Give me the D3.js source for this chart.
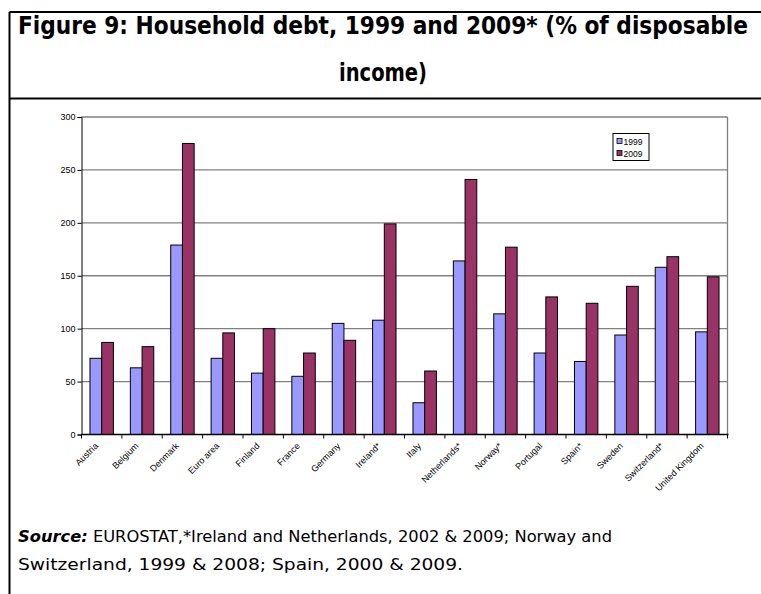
<!DOCTYPE html>
<html>
<head>
<meta charset="utf-8">
<script src="https://cdn.jsdelivr.net/npm/d3@7"></script>
<style>
  body { margin: 0; background: #fff; }
  .title { font-family: "DejaVu Sans", sans-serif; font-stretch: condensed; font-weight: bold; font-size: 24px; }
  .note { font-family: "DejaVu Sans", sans-serif; font-stretch: condensed; font-size: 16px; }
  .axis text, .legend text { font-family: "Liberation Sans", Arial, sans-serif; font-size: 9px; fill: #000; }
  .legend text { font-size: 8.5px; }
</style>
</head>
<body>
<svg id="chart" width="761" height="594"></svg>
<script>
// data
let countries = ["Austria", "Belgium", "Denmark", "Euro area", "Finland", "France", "Germany", "Ireland*",
  "Italy", "Netherlands*", "Norway*", "Portugal", "Spain*", "Sweden", "Switzerland*", "United Kingdom"]
let years = ["1999", "2009"]
let debt1999 = [72, 63, 179, 72, 58, 55, 105, 108, 30, 164, 114, 77, 69, 94, 158, 97]
let debt2009 = [87, 83, 275, 96, 100, 77, 89, 199, 60, 241, 177, 130, 124, 140, 168, 149]
let yTickValues = [0, 50, 100, 150, 200, 250, 300]
let colors = ["#9999ff", "#993366"]

let svg = d3.select("#chart")

// frame around the figure
svg.append("line").attr("x1", 9.5).attr("x2", 9.5).attr("y1", 12).attr("y2", 594)
  .attr("stroke", "#000").attr("stroke-width", 2)
svg.append("line").attr("x1", 9.5).attr("x2", 761).attr("y1", 12).attr("y2", 12)
  .attr("stroke", "#000").attr("stroke-width", 2)
svg.append("line").attr("x1", 9.5).attr("x2", 761).attr("y1", 98.5).attr("y2", 98.5)
  .attr("stroke", "#000").attr("stroke-width", 2)

// title
svg.append("text").attr("class", "title").attr("x", 383).attr("y", 34)
  .attr("text-anchor", "middle").attr("textLength", 730).attr("lengthAdjust", "spacingAndGlyphs")
  .text("Figure 9: Household debt, 1999 and 2009* (% of disposable")
svg.append("text").attr("class", "title").attr("x", 383).attr("y", 81)
  .attr("text-anchor", "middle").attr("textLength", 88).attr("lengthAdjust", "spacingAndGlyphs")
  .text("income)")

// plot area
let plotLeft = 81.5, plotRight = 727.5, plotTop = 117, plotBottom = 434.5

let x = d3.scaleBand().domain(countries).range([plotLeft, plotRight]).paddingInner(0.42).paddingOuter(0.21)
let xInner = d3.scaleBand().domain(years).range([0, x.bandwidth()])
let y = d3.scaleLinear().domain([0, 300]).range([plotBottom, plotTop])

// gridlines
svg.append("g").selectAll("line").data(yTickValues.filter(d => d > 0)).join("line")
  .attr("x1", plotLeft).attr("x2", plotRight)
  .attr("y1", d => y(d)).attr("y2", d => y(d))
  .attr("stroke", "#808080").attr("stroke-width", 1.3)
svg.append("line").attr("x1", plotRight).attr("x2", plotRight).attr("y1", plotTop).attr("y2", plotBottom)
  .attr("stroke", "#808080").attr("stroke-width", 1.3)

// bars
let data = countries.map((c, i) => ({ country: c, values: [debt1999[i], debt2009[i]] }))
svg.append("g").selectAll("g").data(data).join("g")
  .attr("transform", d => "translate(" + x(d.country) + ",0)")
  .selectAll("rect").data(d => d.values.map((v, j) => ({ year: years[j], value: v, k: j }))).join("rect")
  .attr("x", d => xInner(d.year))
  .attr("y", d => y(d.value))
  .attr("width", xInner.bandwidth())
  .attr("height", d => y(0) - y(d.value))
  .attr("fill", d => colors[d.k])
  .attr("stroke", "#000").attr("stroke-width", 1)

// y axis
let yAxis = d3.axisLeft(y).tickValues(yTickValues).tickSize(4).tickPadding(2)
let gy = svg.append("g").attr("class", "axis").attr("transform", "translate(" + plotLeft + ",0)").call(yAxis)
gy.select(".domain").attr("stroke", "#000")
gy.selectAll(".tick line").attr("stroke", "#000")

// x axis, ticks between categories
let gx = svg.append("g").attr("class", "axis")
gx.append("line").attr("x1", plotLeft).attr("x2", plotRight + 1).attr("y1", plotBottom).attr("y2", plotBottom)
  .attr("stroke", "#000").attr("stroke-width", 1.5)
gx.selectAll(".tk").data(d3.range(countries.length + 1)).join("line").attr("class", "tk")
  .attr("x1", i => plotLeft + i * x.step()).attr("x2", i => plotLeft + i * x.step())
  .attr("y1", plotBottom).attr("y2", plotBottom + 4)
  .attr("stroke", "#000")
gx.selectAll("text").data(countries).join("text")
  .attr("text-anchor", "end")
  .attr("transform", d => "translate(" + (x(d) + x.bandwidth() / 2 - 3) + "," + (plotBottom + 12) + ") rotate(-45)")
  .text(d => d)

// legend
let legend = svg.append("g").attr("class", "legend").attr("transform", "translate(613,133.5)")
legend.append("rect").attr("width", 36).attr("height", 27).attr("fill", "#fff").attr("stroke", "#000")
legend.selectAll(".sw").data(years).join("rect").attr("class", "sw")
  .attr("x", 4).attr("y", (d, i) => 5 + i * 12).attr("width", 5).attr("height", 5)
  .attr("fill", (d, i) => colors[i]).attr("stroke", "#000").attr("stroke-width", 0.8)
legend.selectAll("text").data(years).join("text")
  .attr("x", 10.5).attr("y", (d, i) => 11 + i * 12)
  .text(d => d)

// source note
let note1 = svg.append("text").attr("class", "note").attr("x", 18).attr("y", 542)
  .attr("textLength", 594).attr("lengthAdjust", "spacingAndGlyphs")
note1.append("tspan").attr("font-weight", "bold").attr("font-style", "italic").text("Source:")
note1.append("tspan").text(" EUROSTAT,*Ireland and Netherlands, 2002 & 2009; Norway and")
svg.append("text").attr("class", "note").attr("x", 18).attr("y", 570)
  .attr("textLength", 445).attr("lengthAdjust", "spacingAndGlyphs")
  .text("Switzerland, 1999 & 2008; Spain, 2000 & 2009.")
</script>
</body>
</html>
